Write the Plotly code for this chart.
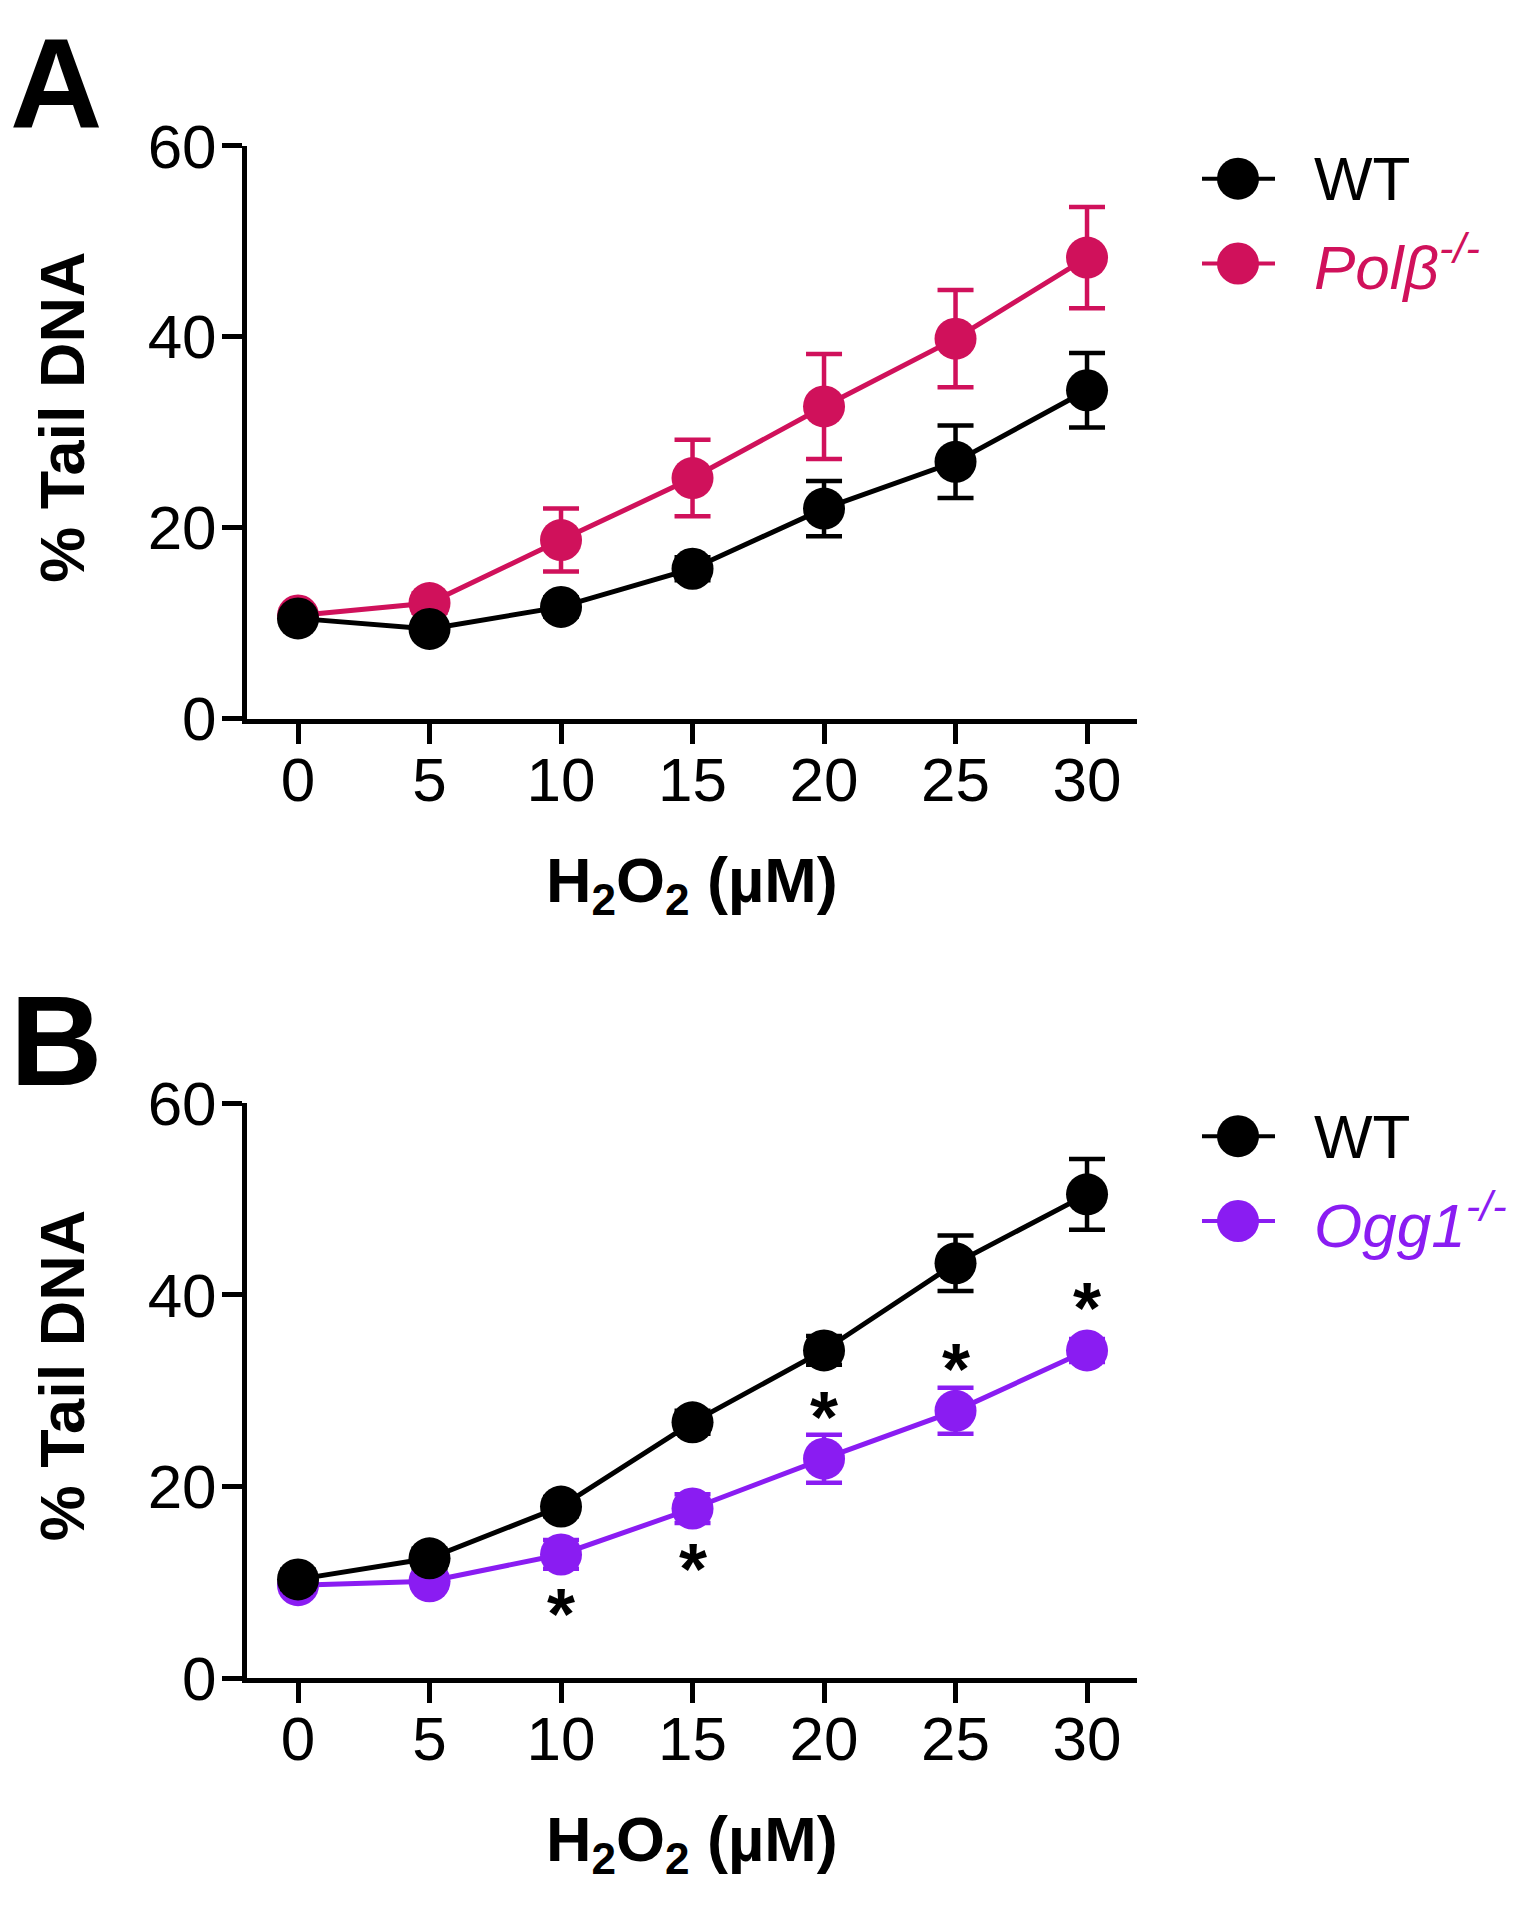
import plotly.graph_objects as go

# ---------------- data ----------------
dose = [0, 5, 10, 15, 20, 25, 30]
x_ticks = [0, 5, 10, 15, 20, 25, 30]
y_ticks = [0, 20, 40, 60]

# Panel A
a_wt = [10.5, 9.4, 11.7, 15.7, 22.0, 26.9, 34.4]
a_wt_err = [0.8, 0.8, 1.0, 1.2, 2.9, 3.8, 3.9]
a_polb = [10.8, 12.1, 18.7, 25.2, 32.7, 39.8, 48.3]
a_polb_err = [0.8, 1.0, 3.3, 4.0, 5.5, 5.1, 5.3]

# Panel B
b_wt = [10.3, 12.5, 17.9, 26.7, 34.2, 43.3, 50.5]
b_wt_err = [1.0, 1.0, 1.0, 1.2, 1.5, 2.9, 3.7]
b_ogg = [9.7, 10.1, 12.9, 17.7, 22.9, 27.9, 34.2]
b_ogg_err = [0.8, 0.8, 1.5, 1.5, 2.5, 2.4, 1.2]

# significance asterisks (dose, side)
star_dose = [10, 15, 20, 25, 30]
star_side = ["below", "below", "above", "above", "above"]

labels_a = ["WT", "<i>Polβ<sup>-/-</sup></i>"]
labels_b = ["WT", "<i>Ogg1<sup>-/-</sup></i>"]
x_title = "<b>H<sub>2</sub>O<sub>2</sub> (µM)</b>"
y_title = "<b>% Tail DNA</b>"

# ---------------- style ----------------
W, H = 1538, 1930
BLACK = "#000000"
PINK = "#D0115B"
PURPLE = "#8A1CF2"
FONT = "Liberation Sans, Arial, sans-serif"
MS = 42
LW = 5

def px_x(p):
    return p / W

def px_y(p):
    return 1 - p / H

# pixel layout
x_left, x_right = 247, 1137
a_top, a_bot = 116, 710
b_top, b_bot = 1109, 1705

fig = go.Figure()

def add_series(x, y, err, color, xa, ya):
    fig.add_trace(go.Scatter(
        x=x, y=y, mode="lines+markers",
        line=dict(color=color, width=LW),
        marker=dict(color=color, size=MS, symbol="circle", line=dict(width=0)),
        error_y=dict(type="data", array=err, visible=True, color=color,
                     thickness=4.5, width=18),
        xaxis=xa, yaxis=ya, showlegend=False, cliponaxis=False,
    ))

add_series(dose, a_polb, a_polb_err, PINK, "x", "y")
add_series(dose, a_wt, a_wt_err, BLACK, "x", "y")
add_series(dose, b_ogg, b_ogg_err, PURPLE, "x2", "y2")
add_series(dose, b_wt, b_wt_err, BLACK, "x2", "y2")

axis_common = dict(
    showgrid=False, zeroline=False, showline=True, linecolor=BLACK, linewidth=5,
    ticks="outside", ticklen=20, tickwidth=5, tickcolor=BLACK,
    tickfont=dict(family=FONT, size=62, color=BLACK),
)
xr = [-1.94, 31.9]
fig.update_layout(
    width=W, height=H, margin=dict(l=0, r=0, t=0, b=0),
    paper_bgcolor="white", plot_bgcolor="white",
    xaxis=dict(domain=[px_x(x_left), px_x(x_right)], range=xr, anchor="y",
               tickvals=x_ticks, ticklabelstandoff=-17, **axis_common),
    yaxis=dict(domain=[px_y(a_bot), px_y(a_top)], range=[0, 60], anchor="x",
               tickvals=y_ticks, ticklabelstandoff=-7, **axis_common),
    xaxis2=dict(domain=[px_x(x_left), px_x(x_right)], range=xr, anchor="y2",
                tickvals=x_ticks, ticklabelstandoff=-17, **axis_common),
    yaxis2=dict(domain=[px_y(b_bot), px_y(b_top)], range=[0, 60], anchor="x2",
                tickvals=y_ticks, ticklabelstandoff=-7, **axis_common),
)

ann = []
shapes = []

# asterisks
for d, side in zip(star_dose, star_side):
    i = dose.index(d)
    ann.append(dict(x=d, y=b_ogg[i], xref="x2", yref="y2", text="<b>*</b>",
                    showarrow=False, xanchor="center", yanchor="middle",
                    yshift=(-60 if side == "below" else 42),
                    font=dict(family=FONT, size=72, color=BLACK)))

# panel letters, titles
for letter, top, bot in [("A", a_top, a_bot), ("B", b_top, b_bot)]:
    ann.append(dict(x=px_x(8), y=px_y(top - 65), xref="paper", yref="paper",
                    text=f"<b>{letter}</b>", showarrow=False, xanchor="left",
                    yanchor="middle", font=dict(family=FONT, size=128, color=BLACK)))
    ann.append(dict(x=px_x(62), y=px_y((top + bot) / 2 - 15), xref="paper", yref="paper",
                    text=y_title, showarrow=False, textangle=-90, xanchor="center",
                    yanchor="middle", font=dict(family=FONT, size=63, color=BLACK)))
    ann.append(dict(x=px_x((x_left + x_right) / 2), y=px_y(bot + 172), xref="paper",
                    yref="paper", text=x_title, showarrow=False, xanchor="center",
                    yanchor="middle", font=dict(family=FONT, size=63, color=BLACK)))

# manual legends (large symbols, as in the original)
for top, labels, colors in [(a_top, labels_a, [BLACK, PINK]), (b_top, labels_b, [BLACK, PURPLE])]:
    for k, (lab, col) in enumerate(zip(labels, colors)):
        yc = top + 34 + k * 88
        shapes.append(dict(type="line", xref="paper", yref="paper",
                           x0=px_x(1202), x1=px_x(1275), y0=px_y(yc), y1=px_y(yc),
                           line=dict(color=BLACK if k == 0 else col, width=4)))
        shapes.append(dict(type="circle", xref="paper", yref="paper",
                           xsizemode="pixel", ysizemode="pixel",
                           xanchor=px_x(1238), yanchor=px_y(yc),
                           x0=-21, x1=21, y0=-21, y1=21,
                           fillcolor=col, line=dict(width=0)))
        ann.append(dict(x=px_x(1312), y=px_y(yc), xref="paper", yref="paper",
                        text=lab, showarrow=False, xanchor="left", yanchor="middle",
                        font=dict(family=FONT, size=62, color=col)))

fig.update_layout(annotations=ann, shapes=shapes)
fig.write_html("out.html", post_script="document.body.style.margin='0';",
               config={"displayModeBar": False})
